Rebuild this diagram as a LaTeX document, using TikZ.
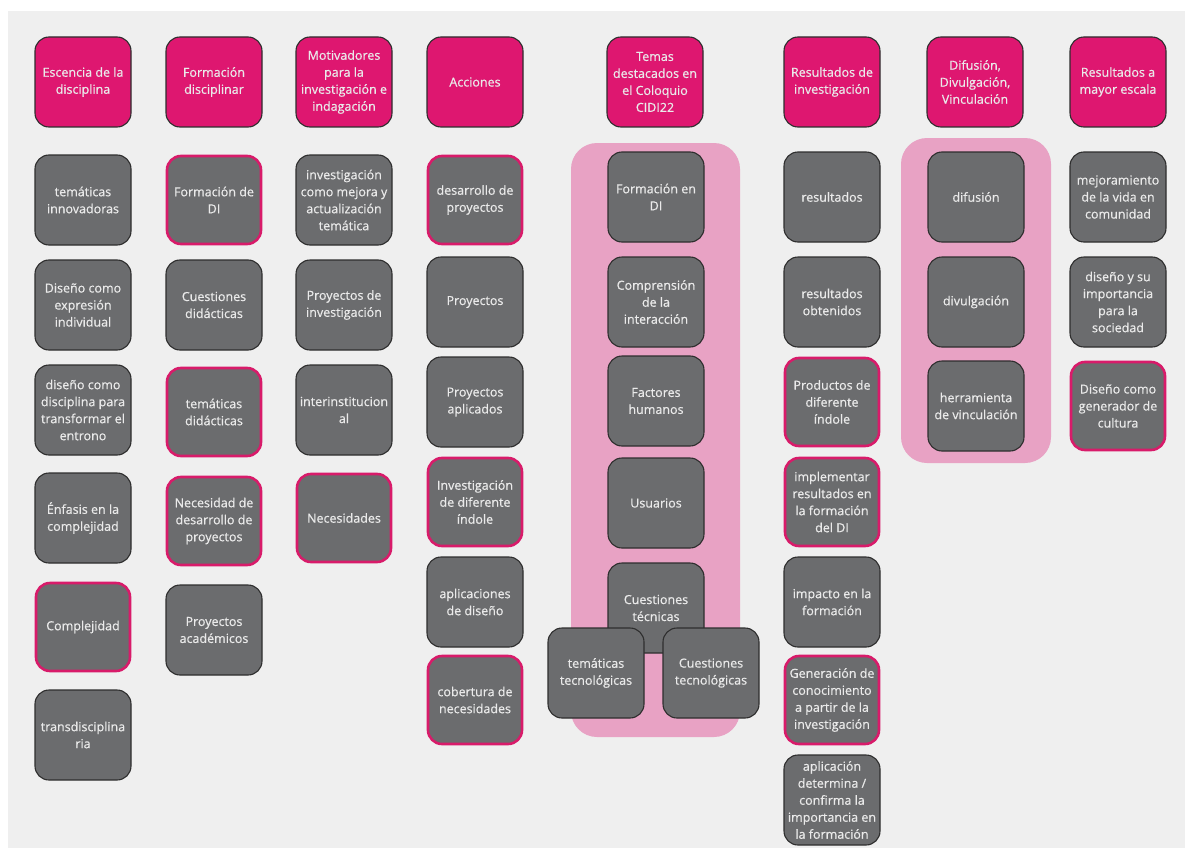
\documentclass[tikz,border=0pt]{standalone}
\usepackage{fontspec}
\setmainfont{Open Sans}
\newfontfamily\tarjfont{Open Sans}[FakeBold=0.6]
\usepackage{tikz}
\definecolor{fondoLienzo}{HTML}{EFEFEF}
\definecolor{rosaCab}{HTML}{DE1770}
\definecolor{rosaBorde}{HTML}{D81B6A}
\definecolor{rosaGrupo}{HTML}{E8A2C4}
\definecolor{grisTarj}{HTML}{6B6C6E}
\definecolor{bordeOsc}{HTML}{2E2E2E}
\definecolor{textoClaro}{HTML}{EAEAEA}
\tikzset{
  tarjeta/.style={draw=bordeOsc, line width=1.1pt, fill=grisTarj, rounded corners=14pt,
    minimum width=96pt, minimum height=90pt, inner sep=1pt, align=center,
    text=textoClaro, font=\tarjfont\fontsize{12.5}{17}\selectfont},
  destacada/.style={tarjeta, draw=rosaBorde, line width=2.6pt, minimum width=94pt, minimum height=88pt},
  cabecera/.style={tarjeta, fill=rosaCab},
  grupo/.style={fill=rosaGrupo, rounded corners=26pt}
}

\begin{document}
\begin{tikzpicture}[x=1pt,y=-1pt]
        \useasboundingbox (0,0) rectangle (1185,848);
        \fill[white] (0,0) rectangle (1185,848);
        \fill[fondoLienzo] (8,11) rectangle (1185,848);
        \fill[grupo] (571,143) rectangle (740,737);
        \fill[grupo] (901,138) rectangle (1051,463);
        \foreach \X/\Name/\Label in {83/esc0/{Escencia de la\\disciplina}, 214/form0/{Formación\\disciplinar},
          344/mot0/{Motivadores\\para la\\investigación e\\indagación}, 475/acc0/{Acciones},
          655/tem0/{Temas\\destacados en\\el Coloquio\\CIDI22}, 832/res0/{Resultados de\\investigación},
          975/dif0/{Difusión,\\Divulgación,\\Vinculación}, 1118/may0/{Resultados a\\mayor escala}}
        \node[cabecera] (\Name) at (\X,82) {\Label};
        \foreach \Y/\Name/\Style/\Label in {200/esc1/tarjeta/{temáticas\\innovadoras}, 305/esc2/tarjeta/{Diseño como\\expresión\\individual},
          410/esc3/tarjeta/{diseño como\\disciplina para\\transformar el\\entrono}, 518/esc4/tarjeta/{Énfasis en la\\complejidad},
          627/esc5/destacada/{Complejidad}, 735/esc6/tarjeta/{transdisciplina\\ria}}
        \node[\Style] (\Name) at (83,\Y) {\Label};
        \foreach \Y/\Name/\Style/\Label in {200/form1/destacada/{Formación de\\DI}, 305/form2/tarjeta/{Cuestiones\\didácticas},
          412/form3/destacada/{temáticas\\didácticas}, 521/form4/destacada/{Necesidad de\\desarrollo de\\proyectos},
          630/form5/tarjeta/{Proyectos\\académicos}}
        \node[\Style] (\Name) at (214,\Y) {\Label};
        \foreach \Y/\Name/\Style/\Label in {200/mot1/tarjeta/{investigación\\como mejora y\\actualización\\temática},
          305/mot2/tarjeta/{Proyectos de\\investigación}, 410/mot3/tarjeta/{interinstitucion\\al}, 518/mot4/destacada/{Necesidades}}
        \node[\Style] (\Name) at (344,\Y) {\Label};
        \foreach \Y/\Name/\Style/\Label in {200/acc1/destacada/{desarrollo de\\proyectos}, 302/acc2/tarjeta/{Proyectos},
          402/acc3/tarjeta/{Proyectos\\aplicados}, 502/acc4/destacada/{Investigación\\de diferente\\índole},
          602/acc5/tarjeta/{aplicaciones\\de diseño}, 700/acc6/destacada/{cobertura de\\necesidades}}
        \node[\Style] (\Name) at (475,\Y) {\Label};
        \foreach \Y/\Name/\Label in {197/tem1/{Formación en\\DI}, 302/tem2/{Comprensión\\de la\\interacción},
          401/tem3/{Factores\\humanos}, 503/tem4/{Usuarios}, 608/tem5/{Cuestiones\\técnicas}}
        \node[tarjeta] (\Name) at (656,\Y) {\Label};
        \node[tarjeta] (tem6) at (596,673) {temáticas\\tecnológicas};
        \node[tarjeta] (tem7) at (711,673) {Cuestiones\\tecnológicas};
        \foreach \Y/\Name/\Style/\Label in {197/res1/tarjeta/{resultados}, 302/res2/tarjeta/{resultados\\obtenidos},
          402/res3/destacada/{Productos de\\diferente\\índole}, 502/res4/destacada/{implementar\\resultados en\\la formación\\del DI},
          602/res5/tarjeta/{impacto en la\\formación}, 700/res6/destacada/{Generación de\\conocimiento\\a partir de la\\investigación},
          800/res7/tarjeta/{aplicación\\determina /\\confirma la\\importancia en\\la formación}}
        \node[\Style] (\Name) at (832,\Y) {\Label};
        \foreach \Y/\Name/\Label in {197/dif1/{difusión}, 302/dif2/{divulgación}, 406/dif3/{herramienta\\de vinculación}}
        \node[tarjeta] (\Name) at (976,\Y) {\Label};
        \foreach \Y/\Name/\Style/\Label in {197/may1/tarjeta/{mejoramiento\\de la vida en\\comunidad},
          302/may2/tarjeta/{diseño y su\\importancia\\para la\\sociedad}, 406/may3/destacada/{Diseño como\\generador de\\cultura}}
        \node[\Style] (\Name) at (1118,\Y) {\Label};
\end{tikzpicture}
\end{document}
